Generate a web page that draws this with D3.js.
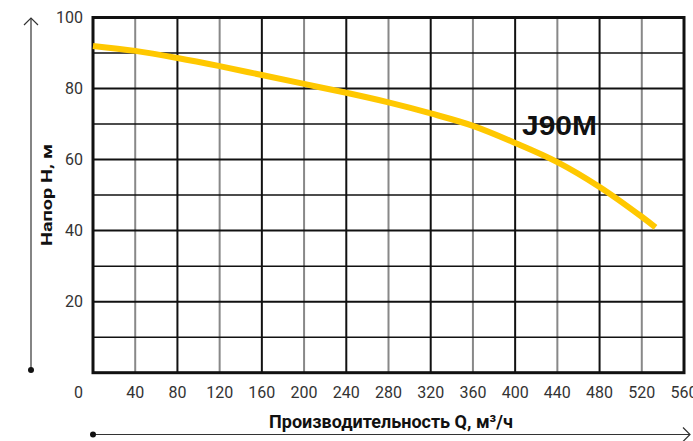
<!DOCTYPE html>
<html><head><meta charset="utf-8">
<script src="https://cdn.jsdelivr.net/npm/d3@7"></script>
<style>body{margin:0;background:#fff}svg{display:block}</style>
</head><body>
<svg id="c" width="693" height="441"></svg>
<script>
const flowQ = [0, 40, 80, 120, 160, 200, 240, 280, 320, 360, 400, 440, 480, 520, 533];
const headH = [92.0, 90.6, 88.6, 86.3, 83.8, 81.3, 78.8, 76.1, 73.0, 69.5, 64.7, 59.3, 52.3, 43.9, 40.9];
const xTicks = [40, 80, 120, 160, 200, 240, 280, 320, 360, 400, 440, 480, 520, 560];
const yTicks = [20, 40, 60, 80, 100];
const seriesName = "J90M";
const xTitle = "Производительность Q, м³/ч";
const yTitle = "Напор H, м";

const svg = d3.select("#c");
const L = 93, R = 684, T = 17.5, B = 372.7;
const x = d3.scaleLinear().domain([0, 560]).range([L, R]);
const y = d3.scaleLinear().domain([0, 100]).range([B, T]);

// grid
const g = svg.append("g");
d3.range(40, 560, 40).forEach(v => {
  g.append("line").attr("x1", x(v)).attr("x2", x(v)).attr("y1", T).attr("y2", B)
    .attr("stroke", v % 80 === 0 ? "#111" : "#888").attr("stroke-width", 2);
});
d3.range(10, 100, 10).forEach(v => {
  g.append("line").attr("x1", L).attr("x2", R).attr("y1", y(v)).attr("y2", y(v))
    .attr("stroke", "#111").attr("stroke-width", v % 20 === 0 ? 2 : 1.5);
});
g.append("rect").attr("x", L).attr("y", T).attr("width", R - L).attr("height", B - T)
  .attr("fill", "none").attr("stroke", "#111").attr("stroke-width", 3);

// curve
const data = flowQ.map((q, i) => [q, headH[i]]);
svg.append("path").datum(data)
  .attr("d", d3.line().x(d => x(d[0])).y(d => y(d[1])).curve(d3.curveCatmullRom.alpha(0.5)))
  .attr("fill", "none").attr("stroke", "#FFC800").attr("stroke-width", 6).attr("stroke-linecap", "butt");

// tick labels
const font = "Roboto, 'Liberation Sans', sans-serif";
svg.append("g").selectAll("text").data(xTicks).join("text")
  .attr("x", d => x(d)).attr("y", 392).attr("dy", "0.35em").attr("text-anchor", "middle")
  .attr("font-family", font).attr("font-size", 16).attr("fill", "#333").text(d => d);
svg.append("g").selectAll("text").data(yTicks).join("text")
  .attr("x", 83).attr("y", d => y(d)).attr("dy", "0.35em").attr("text-anchor", "end")
  .attr("font-family", font).attr("font-size", 16).attr("fill", "#333").text(d => d);
svg.append("text").attr("x", 83).attr("y", 392).attr("dy", "0.35em").attr("text-anchor", "end")
  .attr("font-family", font).attr("font-size", 16).attr("fill", "#333").text("0");

// axis arrows
const a = svg.append("g").attr("stroke", "#333").attr("fill", "none").attr("stroke-width", 1.2);
a.append("line").attr("x1", 31).attr("x2", 31).attr("y1", 370).attr("y2", 18);
a.append("path").attr("d", "M24,25 L31,18 L38,25");
svg.append("circle").attr("cx", 31).attr("cy", 370).attr("r", 3).attr("fill", "#111");
a.append("line").attr("x1", 93).attr("x2", 690).attr("y1", 434.5).attr("y2", 434.5);
a.append("path").attr("d", "M683,427.5 L690,434.5 L683,441.5");
svg.append("circle").attr("cx", 93).attr("cy", 434.5).attr("r", 3).attr("fill", "#111");

// titles
svg.append("text").attr("x", 391).attr("y", 428).attr("text-anchor", "middle")
  .attr("font-family", font).attr("font-weight", "bold").attr("font-size", 18).attr("fill", "#111").text(xTitle);
svg.append("text").attr("transform", "translate(47,195) rotate(-90)").attr("dy", "0.35em").attr("text-anchor", "middle")
  .attr("font-family", font).attr("font-weight", "bold").attr("font-size", 15)
  .attr("textLength", 102).attr("lengthAdjust", "spacingAndGlyphs").attr("fill", "#111").text(yTitle);

// series label
svg.append("text").attr("x", 522).attr("y", 135)
  .attr("font-family", "'Liberation Sans', Arial, sans-serif").attr("font-weight", "bold").attr("font-size", 28)
  .attr("textLength", 75).attr("lengthAdjust", "spacingAndGlyphs")
  .attr("fill", "#111").text(seriesName);
</script>
</body></html>
